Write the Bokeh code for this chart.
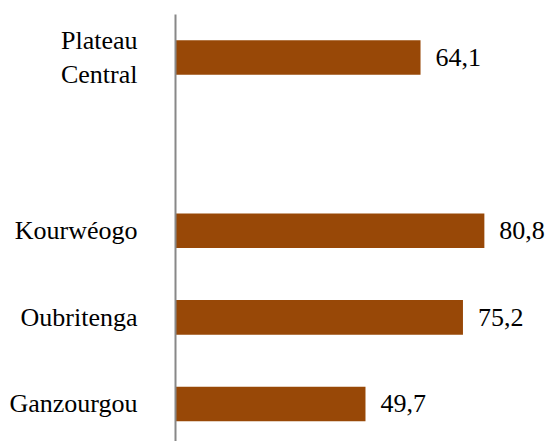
from bokeh.plotting import figure
from bokeh.models import ColumnDataSource, Range1d, FixedTicker
from bokeh.core.properties import value
from bokeh.embed import file_html
from bokeh.resources import INLINE

# Data (bottom to top; blank slot separates the region from its provinces)
categories = ["Ganzourgou", "Oubritenga", "Kourwéogo", "", "Plateau\nCentral"]
values = [49.7, 75.2, 80.8, None, 64.1]

idx = [i for i, v in enumerate(values) if v is not None]
src = ColumnDataSource(dict(
    y=idx,
    v=[values[i] for i in idx],
    lbl=[f"{values[i]:.1f}".replace(".", ",") for i in idx],
))

FONT = "Liberation Serif"
BAR = "#984807"

p = figure(width=550, height=441, output_backend="svg", toolbar_location=None,
           x_axis_location=None, x_range=Range1d(0, 98.1),
           y_range=Range1d(-0.433, 4.497),
           min_border_left=175, min_border_top=14, min_border_bottom=0,
           min_border_right=0)
p.outline_line_color = None
p.xgrid.visible = False
p.ygrid.visible = False
p.stylesheets = ["text { font-family: 'Liberation Serif', serif !important; }"]

p.hbar(y="y", right="v", left=0, height=0.4, source=src,
       fill_color=BAR, line_color=None)
p.text(x="v", y="y", text="lbl", source=src, x_offset=15,
       text_font=value(FONT), text_font_size="26px",
       text_align="left", text_baseline="middle")

ax = p.yaxis[0]
ax.ticker = FixedTicker(ticks=list(range(len(categories))))
ax.major_label_overrides = {i: c for i, c in enumerate(categories)}
ax.major_tick_line_color = None
ax.minor_tick_line_color = None
ax.major_label_standoff = 32
ax.major_label_text_font = FONT
ax.major_label_text_font_size = "26px"
ax.major_label_text_color = "black"
ax.axis_line_color = "#888888"
ax.axis_line_width = 2

with open("out.html", "w", encoding="utf-8") as fh:
    fh.write(file_html(p, INLINE))
